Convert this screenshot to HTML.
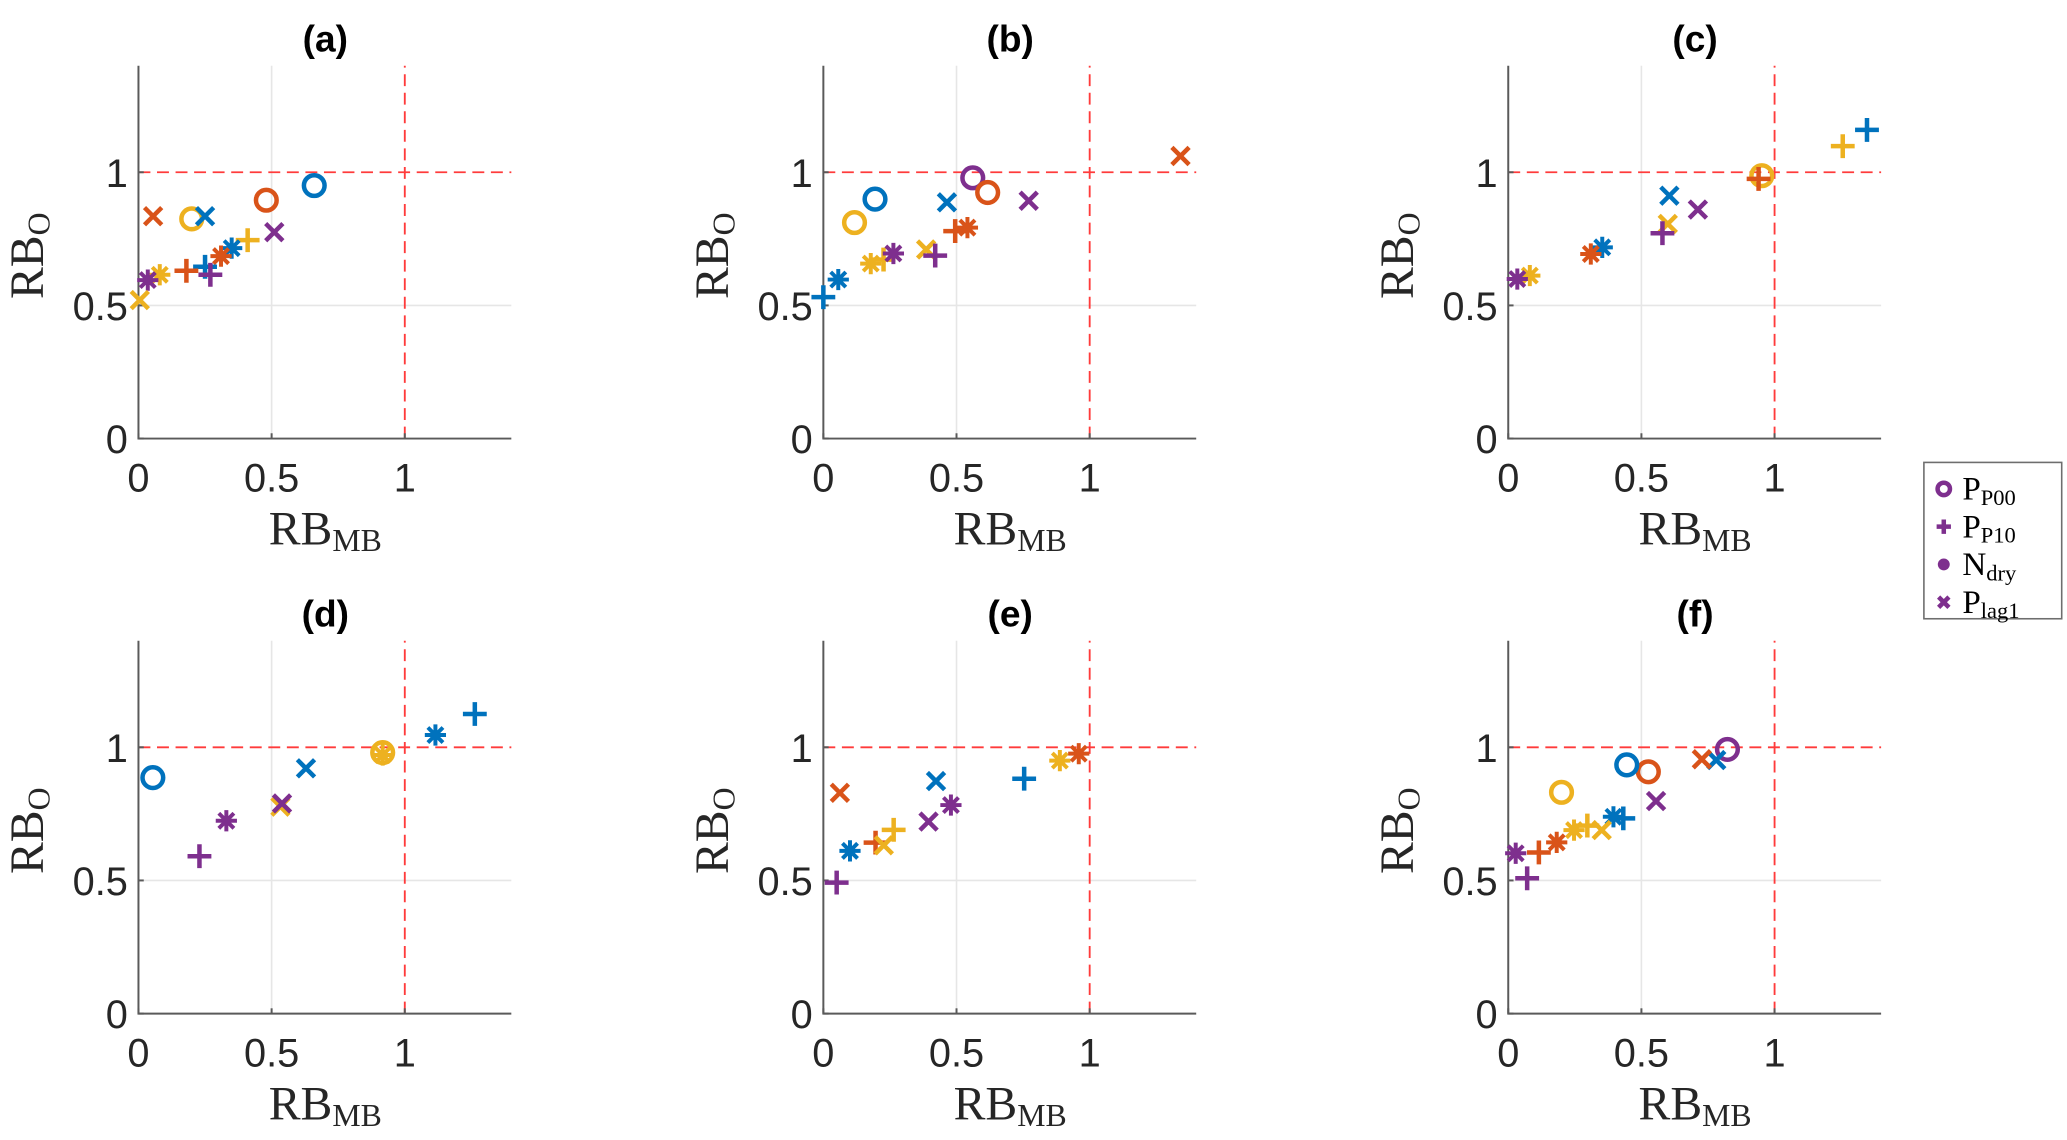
<!DOCTYPE html>
<html><head><meta charset="utf-8">
<style>
html,body{margin:0;padding:0;background:#fff;}
svg{display:block;}
.tick{font-family:"Liberation Sans",sans-serif;font-size:30px;fill:#262626;}
.ttl{font-family:"Liberation Sans",sans-serif;font-size:28px;font-weight:bold;fill:#000;}
.lab{font-family:"Liberation Serif",serif;font-size:36px;fill:#262626;}
.sub{font-size:24px;}
.leg{font-family:"Liberation Serif",serif;font-size:25px;fill:#000;}
.legs{font-size:17px;}
</style></head>
<body>
<svg id="fig" width="2067" height="1140" viewBox="0 0 1560 860.4" preserveAspectRatio="none" xmlns="http://www.w3.org/2000/svg"></svg>
<script>
// series index: 0 blue, 1 orange, 2 yellow, 3 purple ; marker kinds: P00 (o), P10 (+), Ndry (*), Plag1 (x)
const panelTitles = ["(a)","(b)","(c)","(d)","(e)","(f)"];
const xTicks = [0,0.5,1];
const yTicks = [0,0.5,1];
const xTickLabels = ["0","0.5","1"];
const yTickLabels = ["0","0.5","1"];

const aSeries = [0,1,2,1,0,3,2,0,1,0,1,3,2,3,2];
const aKind   = ["P00","P00","P00","Plag1","Plag1","Plag1","P10","Ndry","Ndry","P10","P10","P10","Ndry","Ndry","Plag1"];
const aX = [0.66,0.48,0.20,0.055,0.25,0.51,0.41,0.35,0.31,0.25,0.18,0.27,0.08,0.035,0.005];
const aY = [0.95,0.895,0.825,0.835,0.835,0.775,0.745,0.715,0.685,0.645,0.63,0.615,0.615,0.595,0.52];

const bSeries = [0,0,2,2,3,2,0,2,3,1,1,0,3,1,3,1];
const bKind   = ["P10","Ndry","Ndry","P10","Ndry","P00","P00","Plag1","P10","P10","Ndry","Plag1","P00","P00","Plag1","Plag1"];
const bX = [0.0,0.056,0.178,0.226,0.263,0.117,0.194,0.386,0.42,0.495,0.541,0.464,0.561,0.617,0.771,1.341];
const bY = [0.531,0.597,0.657,0.672,0.695,0.811,0.899,0.71,0.687,0.779,0.792,0.887,0.979,0.924,0.893,1.061];

const cSeries = [0,2,2,1,0,3,2,3,0,1,2,3];
const cKind   = ["P10","P10","P00","P10","Plag1","Plag1","Plag1","P10","Ndry","Ndry","Ndry","Ndry"];
const cX = [1.347,1.256,0.952,0.94,0.605,0.712,0.599,0.579,0.353,0.31,0.081,0.034];
const cY = [1.159,1.098,0.987,0.975,0.912,0.86,0.806,0.771,0.718,0.693,0.612,0.599];

const dSeries = [0,3,3,2,3,0,2,2,0,0];
const dKind   = ["P00","P10","Ndry","Plag1","Plag1","Plag1","P00","Ndry","Ndry","P10"];
const dX = [0.054,0.229,0.33,0.533,0.539,0.629,0.917,0.917,1.115,1.263];
const dY = [0.886,0.591,0.724,0.777,0.789,0.921,0.98,0.971,1.046,1.125];

const eSeries = [1,0,3,1,2,2,3,0,3,0,2,1];
const eKind   = ["Plag1","Ndry","P10","P10","Plag1","P10","Plag1","Plag1","Ndry","P10","Ndry","Ndry"];
const eX = [0.062,0.10,0.05,0.196,0.227,0.264,0.395,0.423,0.479,0.754,0.888,0.959];
const eY = [0.829,0.611,0.492,0.642,0.632,0.69,0.721,0.873,0.783,0.882,0.95,0.976];

const fSeries = [3,0,1,1,0,2,3,0,0,2,2,2,1,1,3,3];
const fKind   = ["P00","Plag1","Plag1","P00","P00","P00","Plag1","P10","Ndry","Plag1","P10","Ndry","Ndry","P10","Ndry","P10"];
const fX = [0.823,0.781,0.727,0.526,0.445,0.2,0.555,0.432,0.395,0.351,0.297,0.247,0.182,0.115,0.028,0.071];
const fY = [0.992,0.952,0.955,0.908,0.934,0.831,0.798,0.733,0.739,0.689,0.706,0.689,0.643,0.605,0.602,0.508];

const legendKinds = ["P00","P10","Ndry","Plag1"];
const legendMain = ["P","P","N","P"];
const legendSub = ["P00","P10","dry","lag1"];

const COLORS = ["#0072BD","#D95319","#EDB120","#7E2F8E"];
const panels = [[aSeries,aKind,aX,aY],[bSeries,bKind,bX,bY],[cSeries,cKind,cX,cY],
                [dSeries,dKind,dX,dY],[eSeries,eKind,eX,eY],[fSeries,fKind,fX,fY]];
const NS = "http://www.w3.org/2000/svg";
const svg = document.getElementById("fig");
function mk(tag, attrs, parent){
  const e = document.createElementNS(NS, tag);
  for (const k in attrs) e.setAttribute(k, attrs[k]);
  (parent||svg).appendChild(e);
  return e;
}
const UNIT = 201, XMAX = 1.4, YMAX = 1.4;
const colX0 = [104.5, 621.4, 1138.3];
const rowY0 = [331, 765];

function marker(g, kind, cx, cy, color, s){
  const sw = 3.4;
  if (kind === "P00"){
    mk("circle",{cx:cx,cy:cy,r:7.8*s,fill:"none",stroke:color,"stroke-width":sw},g);
  } else if (kind === "P10"){
    const h = 9*s;
    mk("path",{d:`M${cx-h},${cy}H${cx+h}M${cx},${cy-h}V${cy+h}`,stroke:color,"stroke-width":sw,fill:"none"},g);
  } else if (kind === "Plag1"){
    const h = 6.5*s;
    mk("path",{d:`M${cx-h},${cy-h}L${cx+h},${cy+h}M${cx-h},${cy+h}L${cx+h},${cy-h}`,stroke:color,"stroke-width":sw,fill:"none"},g);
  } else {
    const h = 8*s, d = 5.7*s;
    mk("path",{d:`M${cx-h},${cy}H${cx+h}M${cx},${cy-h}V${cy+h}M${cx-d},${cy-d}L${cx+d},${cy+d}M${cx-d},${cy+d}L${cx+d},${cy-d}`,stroke:color,"stroke-width":3,fill:"none"},g);
    mk("circle",{cx:cx,cy:cy,r:3.5*s,fill:color},g);
  }
}

panels.forEach((p, i) => {
  const x0 = colX0[i%3], y0 = rowY0[Math.floor(i/3)];
  const sx = v => x0 + v*UNIT;
  const sy = v => y0 - v*UNIT;
  const g = mk("g",{});
  
  
  const grid = mk("path",{d:`M${sx(0.5)},${sy(0)}V${sy(YMAX)}M${sx(0)},${sy(0.5)}H${sx(XMAX)}`,stroke:"#e6e6e6","stroke-width":1.2,fill:"none"},g);
  
  
  const ref = mk("path",{d:`M${sx(1)},${sy(0)}V${sy(YMAX)}M${sx(0)},${sy(1)}H${sx(XMAX)}`,stroke:"#FF3B3B","stroke-width":1.4,"stroke-dasharray":"9,5",fill:"none"},g);
  
  
  const ax = mk("path",{d:`M${sx(0)},${sy(YMAX)}V${sy(0)}H${sx(XMAX)}`,stroke:"#5a5a5a","stroke-width":1.5,fill:"none"},g);
  
  
  xTicks.forEach((t, k) => {
    mk("path",{d:`M${sx(t)},${sy(0)}v-4`,stroke:"#5a5a5a","stroke-width":1.5},g);
    const tl = mk("text",{x:sx(t),y:y0+40,"text-anchor":"middle",class:"tick"},g);
    tl.textContent = xTickLabels[k];
    
    
  });
  yTicks.forEach((t, k) => {
    mk("path",{d:`M${sx(0)},${sy(t)}h4`,stroke:"#5a5a5a","stroke-width":1.5},g);
    const tl = mk("text",{x:x0-8,y:sy(t)+11,"text-anchor":"end",class:"tick"},g);
    tl.textContent = yTickLabels[k];
    
    
  });
  const title = mk("text",{x:x0+141,y:y0-292,"text-anchor":"middle",class:"ttl"},g);
  title.textContent = panelTitles[i];
  
  
  const xl = mk("text",{x:x0+141,y:y0+80,"text-anchor":"middle",class:"lab"},g);
  xl.innerHTML = 'RB<tspan class="sub" dy="5">MB</tspan>';
  
  
  const ly = y0 - 138;
  const yl = mk("text",{x:0,y:0,"text-anchor":"middle",class:"lab",transform:`translate(${x0-72},${ly}) rotate(-90)`},g);
  yl.innerHTML = 'RB<tspan class="sub" dy="5">O</tspan>';
  
  
  const [ser, kind, xs, ys] = p;
  xs.forEach((xv, j) => {
    const mg = mk("g",{},g);
    
    
    marker(mg, kind[j], sx(xv), sy(ys[j]), COLORS[ser[j]], 1);
  });
});

const lg = mk("g",{});


mk("rect",{x:1452,y:349,width:104,height:118,fill:"#fff",stroke:"#6e6e6e","stroke-width":1.2},lg);
legendKinds.forEach((k, i) => {
  const cy = 369 + i*28.5;
  const eg = mk("g",{},lg);
  
  
  if (k === "Ndry") mk("circle",{cx:1467,cy:cy,r:4.5,fill:"#7E2F8E"},eg);
  else marker(eg, k, 1467, cy, "#7E2F8E", 0.6);
  const t = mk("text",{x:1481,y:cy+8,class:"leg"},eg);
  t.innerHTML = legendMain[i] + '<tspan class="legs" dy="4">' + legendSub[i] + '</tspan>';
});
</script>
</body></html>
